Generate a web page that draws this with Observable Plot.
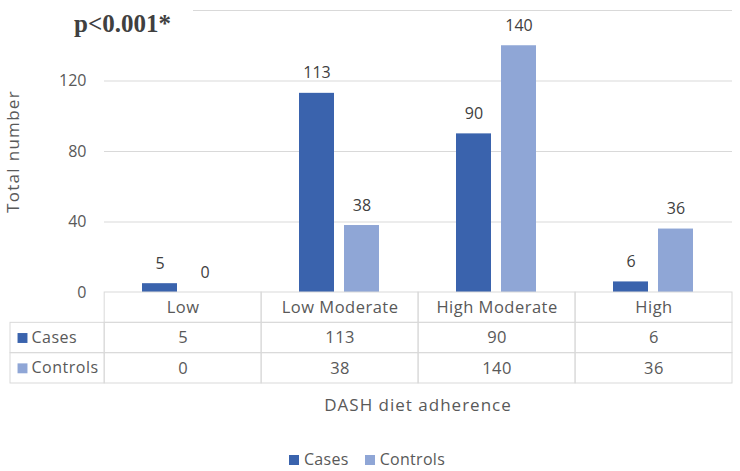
<!DOCTYPE html>
<html>
<head>
<meta charset="utf-8">
<script src="https://cdn.jsdelivr.net/npm/d3@7"></script>
<script src="https://cdn.jsdelivr.net/npm/@observablehq/plot@0.6"></script>
<style>
  body { margin: 0; background: #fff; }
  #chart { position: relative; width: 740px; height: 471px; overflow: hidden; font-family: "Open Sans", sans-serif; color: #595959; }
  #chart > * { position: absolute; }
  #pval { left: 60px; top: 0; width: 133px; height: 40px; background: #fff; box-sizing: border-box; padding: 11px 0 0 14px;
          font-family: "Liberation Serif", serif; font-weight: bold; font-size: 25px; line-height: 1; color: #404040; }
  #xtitle { left: 104px; top: 394px; width: 628px; text-align: center; font-size: 17px; letter-spacing: 1px; line-height: 22px; }
  #legend { left: 0; top: 448px; width: 740px; text-align: center; font-size: 16px; letter-spacing: 0.3px; line-height: 22px; padding-right: 6px; box-sizing: border-box; }
  #legend span.sw { display: inline-block; width: 10px; height: 10px; margin-right: 5px; vertical-align: 0px; }
  #legend span.item { margin: 0 8px; }
</style>
</head>
<body>
<div id="chart"></div>
<script>
// ---- data ----
const categories = ["Low", "Low Moderate", "High Moderate", "High"];
const seriesNames = ["Cases", "Controls"];
const cases = [5, 113, 90, 6];
const controls = [0, 38, 140, 36];
const seriesColors = ["#3A63AD", "#8FA6D6"];
const yTickLabels = [0, 40, 80, 120];
const yGrid = [40, 80, 120, 160];
const yDomain = [0, 160];
const xTitle = "DASH diet adherence";
const yTitle = "Total number";
const pText = "p<0.001*";

const seriesValues = [cases, controls];
const data = categories.flatMap((c, i) =>
  seriesNames.map((s, j) => ({ cat: c, series: s, value: seriesValues[j][i] })));

const chart = document.getElementById("chart");

// ---- main bar chart ----
const main = Plot.plot({
  width: 740, height: 300,
  marginTop: 10, marginBottom: 8, marginLeft: 104, marginRight: 8,
  style: { fontFamily: "Open Sans, sans-serif", fontSize: "16px", color: "#595959", background: "transparent", overflow: "visible" },
  fx: { domain: categories, padding: 0, axis: null, label: null },
  x: { domain: seriesNames, paddingInner: 0.222, paddingOuter: 0.855, axis: null },
  y: { domain: yDomain, ticks: yTickLabels, tickSize: 0, tickPadding: 18,
       label: yTitle, labelAnchor: "center", labelArrow: "none", labelOffset: 98 },
  color: { domain: seriesNames, range: seriesColors },
  marks: [
    Plot.ruleY(yGrid, { stroke: "#d9d9d9", strokeWidth: 1 }),
    Plot.barY(data, { fx: "cat", x: "series", y: "value", fill: "series" }),
    Plot.text(data, { fx: "cat", x: "series", y: "value", text: d => String(d.value),
                      dy: -20, fill: "#404040", fontSize: 16 })
  ]
});
main.style.left = "0px";
main.style.top = "0px";
d3.select(main).selectAll('[aria-label="y-axis label"] text')
  .style("font-size", "17px").style("letter-spacing", "1.3px");
chart.appendChild(main);

// ---- data table ----
const rowNames = ["", ...seriesNames];
const labelColStart = -0.6;
const cells = [];
categories.forEach((c, i) => cells.push({ x1: i, x2: i + 1, y1: 0, y2: 1, text: c }));
seriesNames.forEach((s, j) => {
  cells.push({ x1: labelColStart, x2: 0, y1: j + 1, y2: j + 2, text: null });
  categories.forEach((c, i) => cells.push({ x1: i, x2: i + 1, y1: j + 1, y2: j + 2, text: String(seriesValues[j][i]) }));
});
const rowLabels = seriesNames.map((s, j) => ({ name: s, row: j + 1.5, x: labelColStart }));

const table = Plot.plot({
  width: 740, height: 94,
  marginTop: 1, marginBottom: 2, marginLeft: 10, marginRight: 8,
  style: { fontFamily: "Open Sans, sans-serif", fontSize: "16px", letterSpacing: "0.5px", color: "#595959", background: "transparent", overflow: "visible" },
  x: { domain: [labelColStart, categories.length], axis: null },
  y: { domain: [rowNames.length, 0], axis: null },
  color: { domain: seriesNames, range: seriesColors },
  marks: [
    Plot.rect(cells, { x1: "x1", x2: "x2", y1: "y1", y2: "y2", fill: "none", stroke: "#d9d9d9", strokeWidth: 1 }),
    Plot.text(cells.filter(d => d.text !== null), { x: d => (d.x1 + d.x2) / 2, y: d => (d.y1 + d.y2) / 2,
      text: "text", fill: "#595959", fontSize: 16.5 }),
    Plot.dot(rowLabels, { x: "x", y: "row", symbol: "square", r: 5.6, fill: "name", stroke: null, dx: 12 }),
    Plot.text(rowLabels, { x: "x", y: "row", text: "name", textAnchor: "start", dx: 21, fill: "#595959", fontSize: 16 })
  ]
});
table.style.left = "0px";
table.style.top = "291px";
chart.appendChild(table);

// ---- p-value annotation ----
const p = document.createElement("div");
p.id = "pval";
p.textContent = pText;
chart.appendChild(p);

// ---- x title ----
const xt = document.createElement("div");
xt.id = "xtitle";
xt.textContent = xTitle;
chart.appendChild(xt);

// ---- legend ----
const lg = document.createElement("div");
lg.id = "legend";
seriesNames.forEach((s, j) => {
  const item = document.createElement("span");
  item.className = "item";
  const sw = document.createElement("span");
  sw.className = "sw";
  sw.style.background = seriesColors[j];
  item.appendChild(sw);
  item.appendChild(document.createTextNode(s));
  lg.appendChild(item);
});
chart.appendChild(lg);
</script>
</body>
</html>
